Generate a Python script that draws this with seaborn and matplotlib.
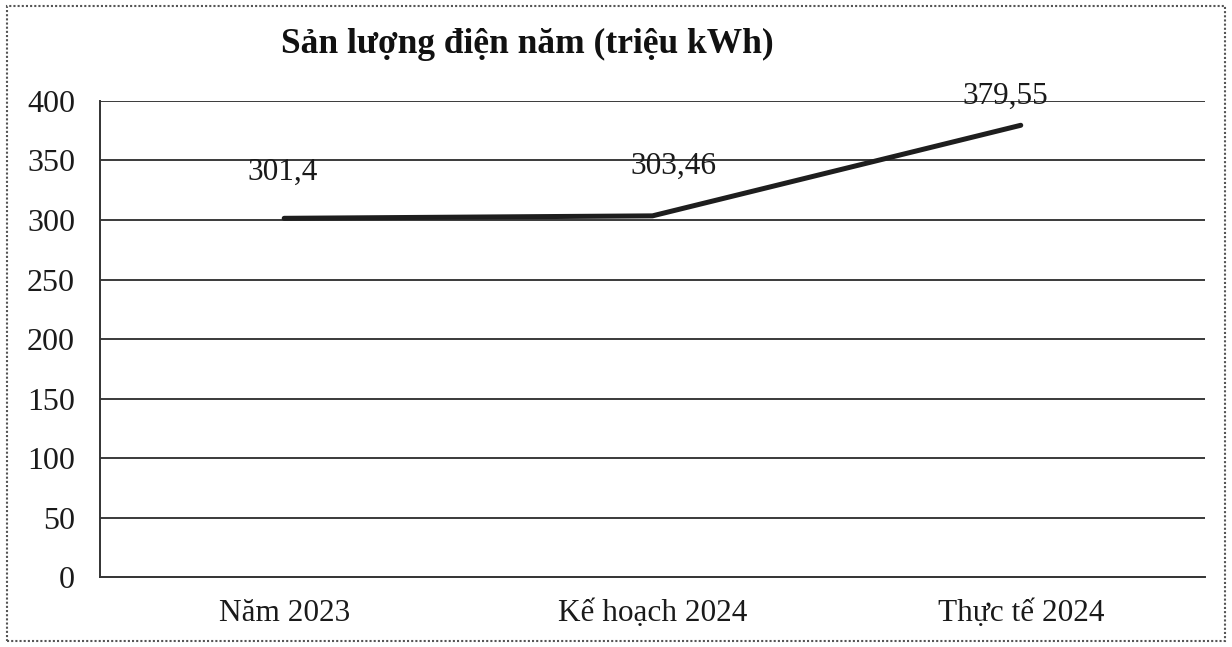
import matplotlib
matplotlib.use("Agg")
import matplotlib.pyplot as plt
import seaborn as sns
import pandas as pd
import numpy as np
from matplotlib.patches import Rectangle

categories = ["Năm 2023", "Kế hoạch 2024", "Thực tế 2024"]
values = [301.4, 303.46, 379.55]
value_labels = ["301,4", "303,46", "379,55"]
y_ticks = [0, 50, 100, 150, 200, 250, 300, 350, 400]
title = "Sản lượng điện năm (triệu kWh)"

sns.set_style("white")
plt.rcParams["font.family"] = ["Liberation Serif", "DejaVu Serif"]

fig = plt.figure(figsize=(12.32, 6.47), dpi=100)
ax = fig.add_axes([0.0812, 0.108, 0.8968, 0.736])

df = pd.DataFrame({"x": np.arange(len(categories)) + 0.5, "y": values})
sns.lineplot(data=df, x="x", y="y", ax=ax, color="#1e1e1e", linewidth=3.6, zorder=3)

ax.set_xlim(0, len(categories))
ax.set_ylim(0, 400)
ax.set_yticks(y_ticks)
ax.set_yticklabels([str(t) for t in y_ticks], fontsize=23, color="#1a1a1a")
ax.set_xticks(np.arange(len(categories)) + 0.5)
ax.set_xticklabels(categories, fontsize=22.5, color="#1a1a1a")
ax.set_xticks(np.arange(len(categories) + 1), minor=True)
ax.tick_params(axis="x", which="major", length=0, pad=16)
ax.tick_params(axis="x", which="minor", length=7, width=1.3, direction="out", color="#333333")
ax.tick_params(axis="y", which="major", length=7, width=1.3, direction="out", color="#333333", pad=11)
ax.set_xlabel("")
ax.set_ylabel("")

for yv in y_ticks[1:]:
    ax.axhline(yv, color="#3a3a3a", linewidth=1.4, zorder=1)

for s in ["top", "right"]:
    ax.spines[s].set_visible(False)
for s in ["left", "bottom"]:
    ax.spines[s].set_color("#333333")
    ax.spines[s].set_linewidth(1.4)

offsets = [(-1, 33), (15, 36), (-11, 21)]
for i, (v, lab) in enumerate(zip(values, value_labels)):
    ax.annotate(lab, xy=(i + 0.5, v), xytext=offsets[i], textcoords="offset points",
                ha="center", va="center", fontsize=22.5, color="#1a1a1a")

fig.text(0.428, 0.932, title, ha="center", va="center", fontsize=25.5,
         fontweight="bold", color="#111111")

fig.patches.append(Rectangle((0.006, 0.01), 0.988, 0.98, transform=fig.transFigure,
                             fill=False, edgecolor="#555555", linewidth=1.5,
                             linestyle=(0, (1, 1))))

fig.savefig("out.png", dpi=100)
